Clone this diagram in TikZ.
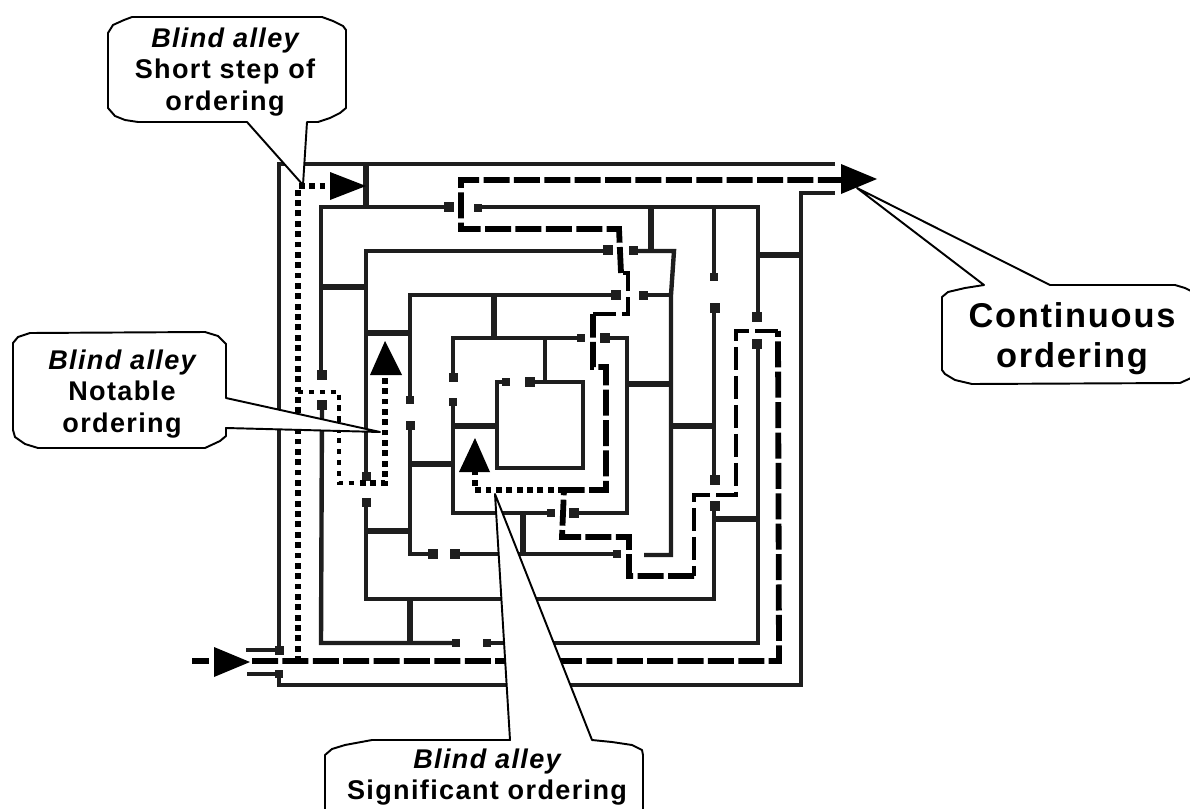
\documentclass[tikz,border=0pt]{standalone}
\usepackage{fontspec}
\usepackage{xcolor}
\usepackage{tikz}
\newfontfamily\labelfont[LetterSpace=5]{Liberation Sans}
\definecolor{wallcol}{HTML}{1E1E1E}
\tikzset{
  wall/.style={draw=wallcol, line width=2.5pt, line join=miter},
  wallbar/.style={draw=wallcol, line width=3.3pt},
  contpath/.style={draw=black, line width=3.3pt, dash pattern=on 14.8pt off 2.5pt},
  contthin/.style={draw=black, line width=2.4pt, dash pattern=on 13pt off 3.5pt},
  dotpath/.style={draw=black, line width=3.4pt, dash pattern=on 3.3pt off 2.6pt},
  dotthin/.style={draw=black, line width=2.5pt, dash pattern=on 3pt off 3.2pt},
  callout/.style={draw=black, fill=white, line width=1.1pt, line join=round},
  calltext/.style={align=center, inner sep=0pt, font=\labelfont\bfseries\fontsize{15.4pt}{18pt}\selectfont}
}
\begin{document}
\begin{tikzpicture}[x=0.02cm, y=-0.02cm]
        \useasboundingbox (0,0) rectangle (1190,808);

        % Outer walls
        \draw[wall] (246,650) -- (279,650) -- (279,164) -- (835,164);
        \draw[wall] (247,674) -- (279,674) -- (279,685) -- (801,685) -- (801,193) -- (835,193);
        \draw[wallbar] (366,164) -- (366,207);
        \draw[wallbar] (758,255) -- (801,255);

        % Second ring
        \draw[wall] (449,207) -- (321,207) -- (321,375);
        \draw[wall] (322,405) -- (321,643) -- (456,643);
        \draw[wall] (478,207) -- (758,207) -- (758,317);
        \draw[wall] (758,344) -- (758,643) -- (487,643);
        \draw[wallbar] (321,287) -- (366,287);
        \draw[wallbar] (410,599) -- (410,643);
        \draw[wallbar] (715,519) -- (758,519);
        \draw[wallbar] (651,207) -- (651,251);
        \draw[wall] (714,207) -- (714,277);

        % Third ring
        \draw[wall] (608,251) -- (366,251) -- (366,476);
        \draw[wall] (366,502) -- (366,599) -- (714,599) -- (714,506);
        \draw[wall] (714,480) -- (714,308);
        \draw[wall] (633,251) -- (674,251) -- (671,295) -- (671,555) -- (644,555);
        \draw[wall] (643,295) -- (671,295);
        \draw[wallbar] (366,333) -- (410,333);
        \draw[wallbar] (366,531) -- (410,531);
        \draw[wallbar] (671,426) -- (714,426);

        % Fourth ring
        \draw[wall] (616,295) -- (410,295) -- (410,400);
        \draw[wall] (410,425) -- (410,554) -- (433,554);
        \draw[wall] (455,554) -- (617,554);
        \draw[wallbar] (410,464) -- (453,464);
        \draw[wallbar] (494,295) -- (494,338);
        \draw[wallbar] (523,513) -- (523,554);
        \draw[wallbar] (627,384) -- (671,384);

        % Fifth ring
        \draw[wall] (581,338) -- (453,338) -- (453,377);
        \draw[wall] (453,402) -- (453,513) -- (551,513);
        \draw[wall] (574,513) -- (627,513) -- (627,338) -- (605,338);
        \draw[wallbar] (453,426) -- (497,426);
        \draw[wall] (545,338) -- (545,381);

        % Inner room
        \draw[wall] (506,382) -- (497,382) -- (497,468) -- (583,468) -- (583,382) -- (530,382);

        % Wall ends
        \foreach \x/\y/\s in {279/650/9, 279/674/8, 449/207/10, 478/208/8, 322/375/10, 322/405/10,
            456/643/8, 487/643/8, 757/317/10, 757/344/10, 366/476/9, 366/502/9, 715/506/10,
            715/480/10, 715/308/10, 714/277/8, 608/250/10, 633/250/9, 643/295/9, 616/295/10,
            410/400/8, 410/425/9, 433/554/10, 455/554/10, 617/554/8, 453/377/9, 453/402/8,
            581/338/8, 605/338/10, 551/513/8, 574/513/10, 506/382/8, 530/382/10}
          \fill[wallcol] (\x-\s/2,\y-\s/2) rectangle (\x+\s/2,\y+\s/2);

        % Continuous ordering path
        \draw[contpath] (192,661) -- (209,661);
        \draw[contpath] (252,661) -- (779,661) -- (778,331);
        \draw[contthin] (778,331) -- (736,331) -- (736,495) -- (694,495) -- (694,576);
        \draw[contpath] (694,576) -- (629,576) -- (629,537) -- (562,537) -- (564,490) -- (606,490) -- (606,367) -- (593,367) -- (593,314);
        \draw[contthin] (593,314) -- (628,314) -- (628,273) -- (621,273);
        \draw[contpath] (621,273) -- (619,229) -- (461,229) -- (461,180) -- (843,180);

        % Blind alley paths
        \draw[dotpath] (298,662) -- (298,186) -- (332,186);
        \draw[dotthin] (298,392) -- (339,392) -- (339,483) -- (360,483);
        \draw[dotpath] (360,483) -- (385,483) -- (385,373);
        \draw[dotpath] (564,490) -- (475,490) -- (475,470);

        % Callouts
        \draw[callout] (108,33) -- (113,25) -- (124,20) -- (132,17) -- (322,17) -- (333,21) -- (343,26)
          -- (346,30) -- (346,108) -- (340,113) -- (330,118) -- (318,122) -- (307,122) -- (303,185)
          -- (247,122) -- (138,122) -- (125,120) -- (115,116) -- (108,108) -- cycle;
        \draw[callout] (13,343) -- (18,337) -- (30,333) -- (205,332) -- (218,336) -- (226,344)
          -- (226,398) -- (380,432) -- (226,428) -- (226,436) -- (220,441) -- (205,448)
          -- (38,448) -- (25,444) -- (15,437) -- (13,430) -- cycle;
        \draw[callout] (942,297) -- (948,292) -- (965,288) -- (984,285) -- (857,188) -- (1050,285)
          -- (1175,285) -- (1185,288) -- (1191,291) -- (1191,378) -- (1180,383) -- (972,384)
          -- (955,380) -- (945,374) -- (942,370) -- cycle;
        \draw[callout] (325,812) -- (325,755) -- (332,749) -- (345,745) -- (372,740) -- (510,740)
          -- (495,494) -- (592,740) -- (612,742) -- (632,745) -- (642,750) -- (643,755) -- (643,812);

        % Arrowheads
        \fill[black] (214,647) -- (250,662) -- (214,677) -- cycle;
        \fill[black] (841,164) -- (877,179) -- (841,194) -- cycle;
        \fill[black] (330,172) -- (366,186) -- (330,200) -- cycle;
        \fill[black] (370,375) -- (385,341) -- (402,375) -- cycle;
        \fill[black] (459,472) -- (475,438) -- (490,472) -- cycle;

        % Callout texts
        \node[calltext] (shortstep) at (225,72) {\itshape Blind alley\\Short step of\\ordering};
        \node[calltext] (notable) at (122,394) {\itshape Blind alley\\Notable\\ordering};
        \node[calltext, font=\labelfont\bfseries\fontsize{19.6pt}{22.8pt}\selectfont] (continuous) at (1072,339) {Continuous\\ordering};
        \node[calltext] (significant) at (487,777) {\itshape Blind alley\\Significant ordering};
      \end{tikzpicture}
\end{document}
